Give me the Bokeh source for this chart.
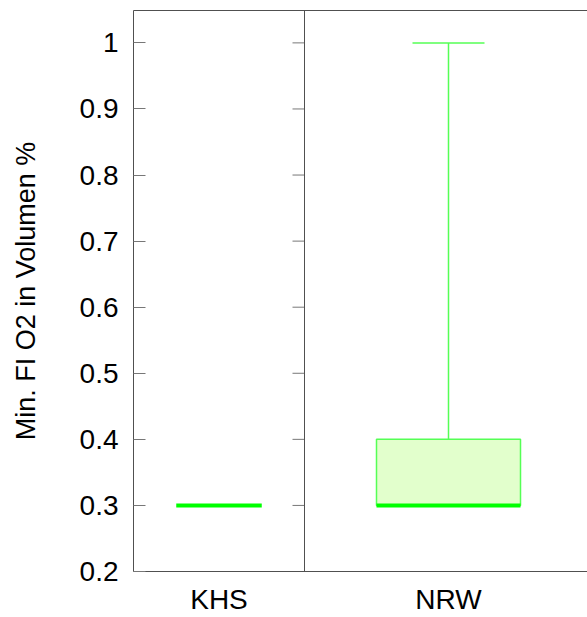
from bokeh.plotting import figure
from bokeh.models import Range1d, FixedTicker, LinearAxis, Span
from bokeh.embed import file_html
from bokeh.resources import INLINE

# ---- data ----
groups = ["KHS", "NRW"]
lower_whisker = [0.3, 0.3]
q1 = [0.3, 0.3]
median = [0.3, 0.3]
q3 = [0.3, 0.4]
upper_whisker = [0.3, 1.0]
y_ticks = [0.2, 0.3, 0.4, 0.5, 0.6, 0.7, 0.8, 0.9, 1.0]
y_tick_labels = ["0.2", "0.3", "0.4", "0.5", "0.6", "0.7", "0.8", "0.9", "1"]

# ---- layout (panel widths in screen px; x data units == px) ----
panel_widths = [171, 288]
frame_w = 454
lefts = [0, panel_widths[0]]
centers = [lefts[i] + panel_widths[i] / 2 for i in range(2)]

p = figure(width=587, height=617, output_backend="svg", toolbar_location=None,
           x_range=Range1d(0, frame_w), y_range=Range1d(0.2, 1.049),
           min_border_left=133, min_border_right=0, min_border_top=10,
           min_border_bottom=45)
p.outline_line_color = None
p.grid.visible = False
p.background_fill_color = "white"

AX = "#505050"
TK = "#777777"
BOX_LINE = "#55ff55"
BOX_FILL = "#e2ffcc"
MED = "#00ff00"
FONT = "Liberation Sans"
FS = "28px"

# y axis
ya = p.yaxis[0]
ya.ticker = FixedTicker(ticks=y_ticks)
ya.major_label_overrides = {t: l for t, l in zip(y_ticks, y_tick_labels)}
ya.major_tick_in = 12
ya.major_tick_out = 0
ya.minor_tick_line_color = None
ya.major_tick_line_color = TK
ya.axis_line_color = AX
ya.major_label_standoff = 15
ya.major_label_text_font = FONT
ya.major_label_text_font_size = FS
ya.major_label_text_color = "black"
ya.axis_label = "Min. FI O2 in Volumen %"
ya.axis_label_text_font = FONT
ya.axis_label_text_font_size = "27px"
ya.axis_label_text_font_style = "normal"
ya.axis_label_text_color = "black"
ya.axis_label_standoff = 36

# x axis
xa = p.xaxis[0]
xa.ticker = FixedTicker(ticks=centers)
xa.major_label_overrides = {c: g for c, g in zip(centers, groups)}
xa.major_tick_in = 0
xa.major_tick_out = 0
xa.minor_tick_line_color = None
xa.axis_line_color = AX
xa.major_label_standoff = 12
xa.major_label_text_font = FONT
xa.major_label_text_font_size = FS
xa.major_label_text_color = "black"

# top border
top = LinearAxis(ticker=FixedTicker(ticks=[]), major_tick_in=0, major_tick_out=0,
                 minor_tick_line_color=None, axis_line_color=AX,
                 major_label_text_font_size="0px")
p.add_layout(top, "above")

# panel separator
p.add_layout(Span(location=lefts[1], dimension="height", line_color=AX, line_width=1))
# inward ticks on right side of first panel
p.segment(x0=[lefts[1] - 12] * len(y_ticks), x1=[lefts[1]] * len(y_ticks),
          y0=y_ticks, y1=y_ticks, line_color=TK, line_width=1)

# boxes
for i in range(2):
    c = centers[i]
    hw = panel_widths[i] * 0.25
    cw = panel_widths[i] * 0.125
    if upper_whisker[i] > q3[i]:
        p.segment(x0=[c], x1=[c], y0=[q3[i]], y1=[upper_whisker[i]],
                  line_color=BOX_LINE, line_width=1.5)
        p.segment(x0=[c - cw], x1=[c + cw], y0=[upper_whisker[i]], y1=[upper_whisker[i]],
                  line_color=BOX_LINE, line_width=1.5)
    if lower_whisker[i] < q1[i]:
        p.segment(x0=[c], x1=[c], y0=[lower_whisker[i]], y1=[q1[i]],
                  line_color=BOX_LINE, line_width=1.5)
        p.segment(x0=[c - cw], x1=[c + cw], y0=[lower_whisker[i]], y1=[lower_whisker[i]],
                  line_color=BOX_LINE, line_width=1.5)
    if q3[i] > q1[i]:
        p.quad(left=[c - hw], right=[c + hw], bottom=[q1[i]], top=[q3[i]],
               fill_color=BOX_FILL, line_color=BOX_LINE, line_width=1.5)
    p.segment(x0=[c - hw], x1=[c + hw], y0=[median[i]], y1=[median[i]],
              line_color=MED, line_width=4)

open("out.html", "w").write(file_html(p, INLINE))
